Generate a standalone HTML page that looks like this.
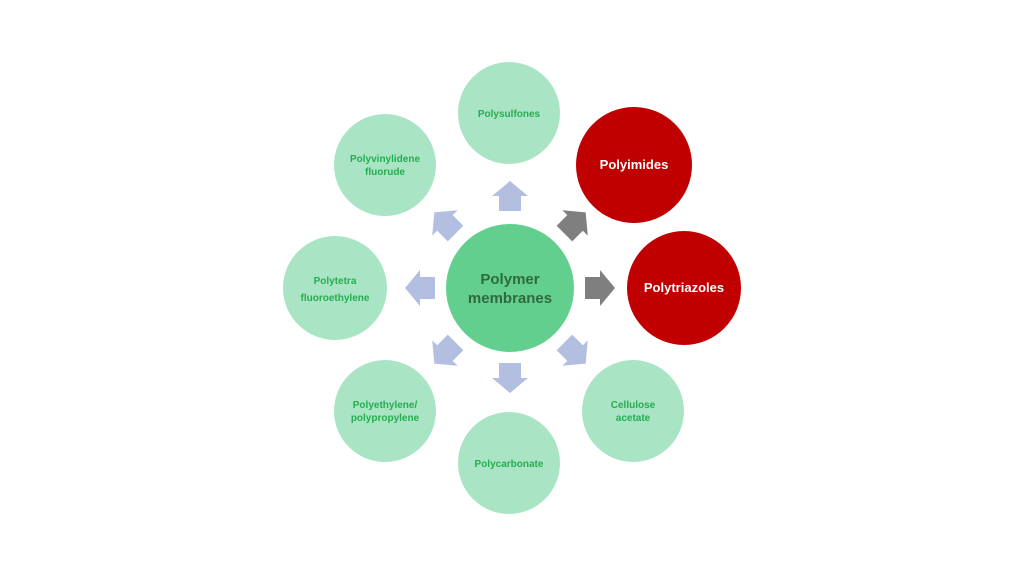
<!DOCTYPE html>
<html><head><style>
body{margin:0;width:1024px;height:576px;background:#fff;overflow:hidden}
svg{display:block}
text{font-family:"Liberation Sans",sans-serif;font-weight:bold;text-anchor:middle}
.g{fill:#25ad4f;font-size:10px}
.w{fill:#fff;font-size:13px}
</style></head><body>
<svg width="1024" height="576" viewBox="0 0 1024 576">
<defs><path id="ar" d="M0,-15 L18,0 L11,0 L11,15 L-11,15 L-11,0 L-18,0 Z"/></defs>
<g fill="#a9e5c5">
<circle cx="509" cy="113" r="51"/>
<circle cx="633" cy="411" r="51"/>
<circle cx="509" cy="463" r="51"/>
<circle cx="385" cy="411" r="51"/>
<circle cx="335" cy="288" r="52"/>
<circle cx="385" cy="165" r="51"/>
</g>
<circle cx="634" cy="165" r="58" fill="#c00000"/>
<circle cx="684" cy="288" r="57" fill="#c00000"/>
<circle cx="510" cy="288" r="64" fill="#62cf8f"/>
<g transform="translate(510,288)">
<use href="#ar" fill="#b3bfe0" transform="rotate(0) translate(0,-92)"/>
<use href="#ar" fill="#7f7f7f" transform="rotate(45) translate(0,-92)"/>
<use href="#ar" fill="#7f7f7f" transform="rotate(90) translate(0,-90)"/>
<use href="#ar" fill="#b3bfe0" transform="rotate(135) translate(0,-92)"/>
<use href="#ar" fill="#b3bfe0" transform="rotate(180) translate(0,-90)"/>
<use href="#ar" fill="#b3bfe0" transform="rotate(225) translate(0,-92)"/>
<use href="#ar" fill="#b3bfe0" transform="rotate(270) translate(0,-90)"/>
<use href="#ar" fill="#b3bfe0" transform="rotate(315) translate(0,-92)"/>
</g>
<text x="510" y="284" style="fill:#2f6a3e;font-size:15px">Polymer</text>
<text x="510" y="303" style="fill:#2f6a3e;font-size:15px">membranes</text>
<text class="g" x="509" y="117">Polysulfones</text>
<text class="w" x="634" y="169">Polyimides</text>
<text class="w" x="684" y="292">Polytriazoles</text>
<text class="g" x="633" y="408">Cellulose</text>
<text class="g" x="633" y="421">acetate</text>
<text class="g" x="509" y="467">Polycarbonate</text>
<text class="g" x="385" y="408">Polyethylene/</text>
<text class="g" x="385" y="421">polypropylene</text>
<text class="g" x="335" y="284">Polytetra</text>
<text class="g" x="335" y="301">fluoroethylene</text>
<text class="g" x="385" y="162">Polyvinylidene</text>
<text class="g" x="385" y="175">fluorude</text>
</svg>
</body></html>
